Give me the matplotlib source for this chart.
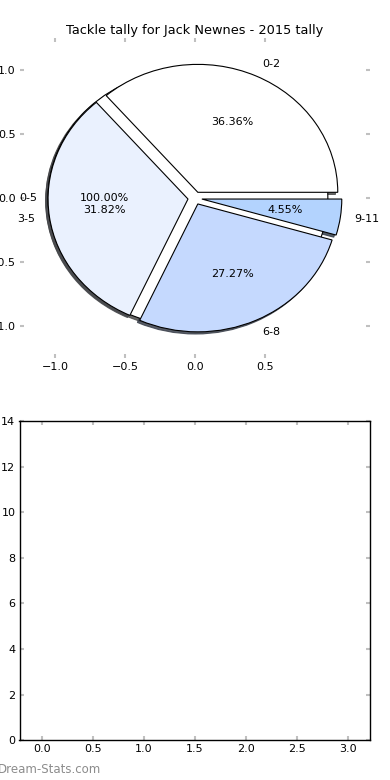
import matplotlib
matplotlib.use("Agg")
import matplotlib.pyplot as plt

# tally data
labels = ["0-2", "3-5", "6-8", "9-11"]
counts = [8, 7, 6, 1]
colors = ["#ffffff", "#eaf1fe", "#c5d9fe", "#b3d3fe"]
explode = [0.05, 0.05, 0.05, 0.05]

total_label = ["0-5"]
total_count = [22]

title = "Tackle tally for Jack Newnes - 2015 tally"

plt.rcParams["font.family"] = "DejaVu Sans"
plt.rcParams["font.size"] = 8

fig = plt.figure(figsize=(3.9, 7.8), dpi=100)
ax1 = fig.add_axes([0.0513, 0.541, 0.897, 0.410])
ax2 = fig.add_axes([0.050, 0.051, 0.899, 0.409])

shadow = {"ox": -0.012, "oy": -0.012, "shade": 0.7, "alpha": 0.85}
wedge_style = {"linewidth": 0.8, "edgecolor": "black"}

# full-circle pie sitting underneath the tally pie
ax1.pie(total_count, labels=total_label, colors=["#ffffff"], explode=[0.05],
		autopct="%.2f%%", shadow=shadow, frame=True, labeldistance=1.08,
		wedgeprops=wedge_style, textprops={"fontsize": 8})
ax1.pie(counts, labels=labels, colors=colors, explode=explode,
		autopct="%.2f%%", shadow=shadow, frame=True,
		wedgeprops=wedge_style, textprops={"fontsize": 8})
ax1.set_aspect("auto")
ax1.set_frame_on(False)
ax1.set_xlim(-1.25, 1.25)
ax1.set_ylim(-1.25, 1.25)
ax1.set_xticks([-1.0, -0.5, 0.0, 0.5])
ax1.set_yticks([-1.0, -0.5, 0.0, 0.5, 1.0])
ax1.set_title(title, fontsize=9.3, pad=3)

ax2.set_xlim(-0.22, 3.22)
ax2.set_ylim(0, 14)
ax2.set_xticks([0.0, 0.5, 1.0, 1.5, 2.0, 2.5, 3.0])
ax2.set_yticks(range(0, 15, 2))
for sp in ax2.spines.values():
	sp.set_linewidth(1.0)

for ax in (ax1, ax2):
	ax.tick_params(direction="in", color="#c0c0c0", length=3, width=1.5,
				   top=True, right=True, labelsize=8, pad=3)

fig.text(-0.005, 0.005, "Dream-Stats.com", color="#8c8c8c", fontsize=8.5,
		 ha="left", va="bottom")

fig.savefig("out.png", dpi=100)
